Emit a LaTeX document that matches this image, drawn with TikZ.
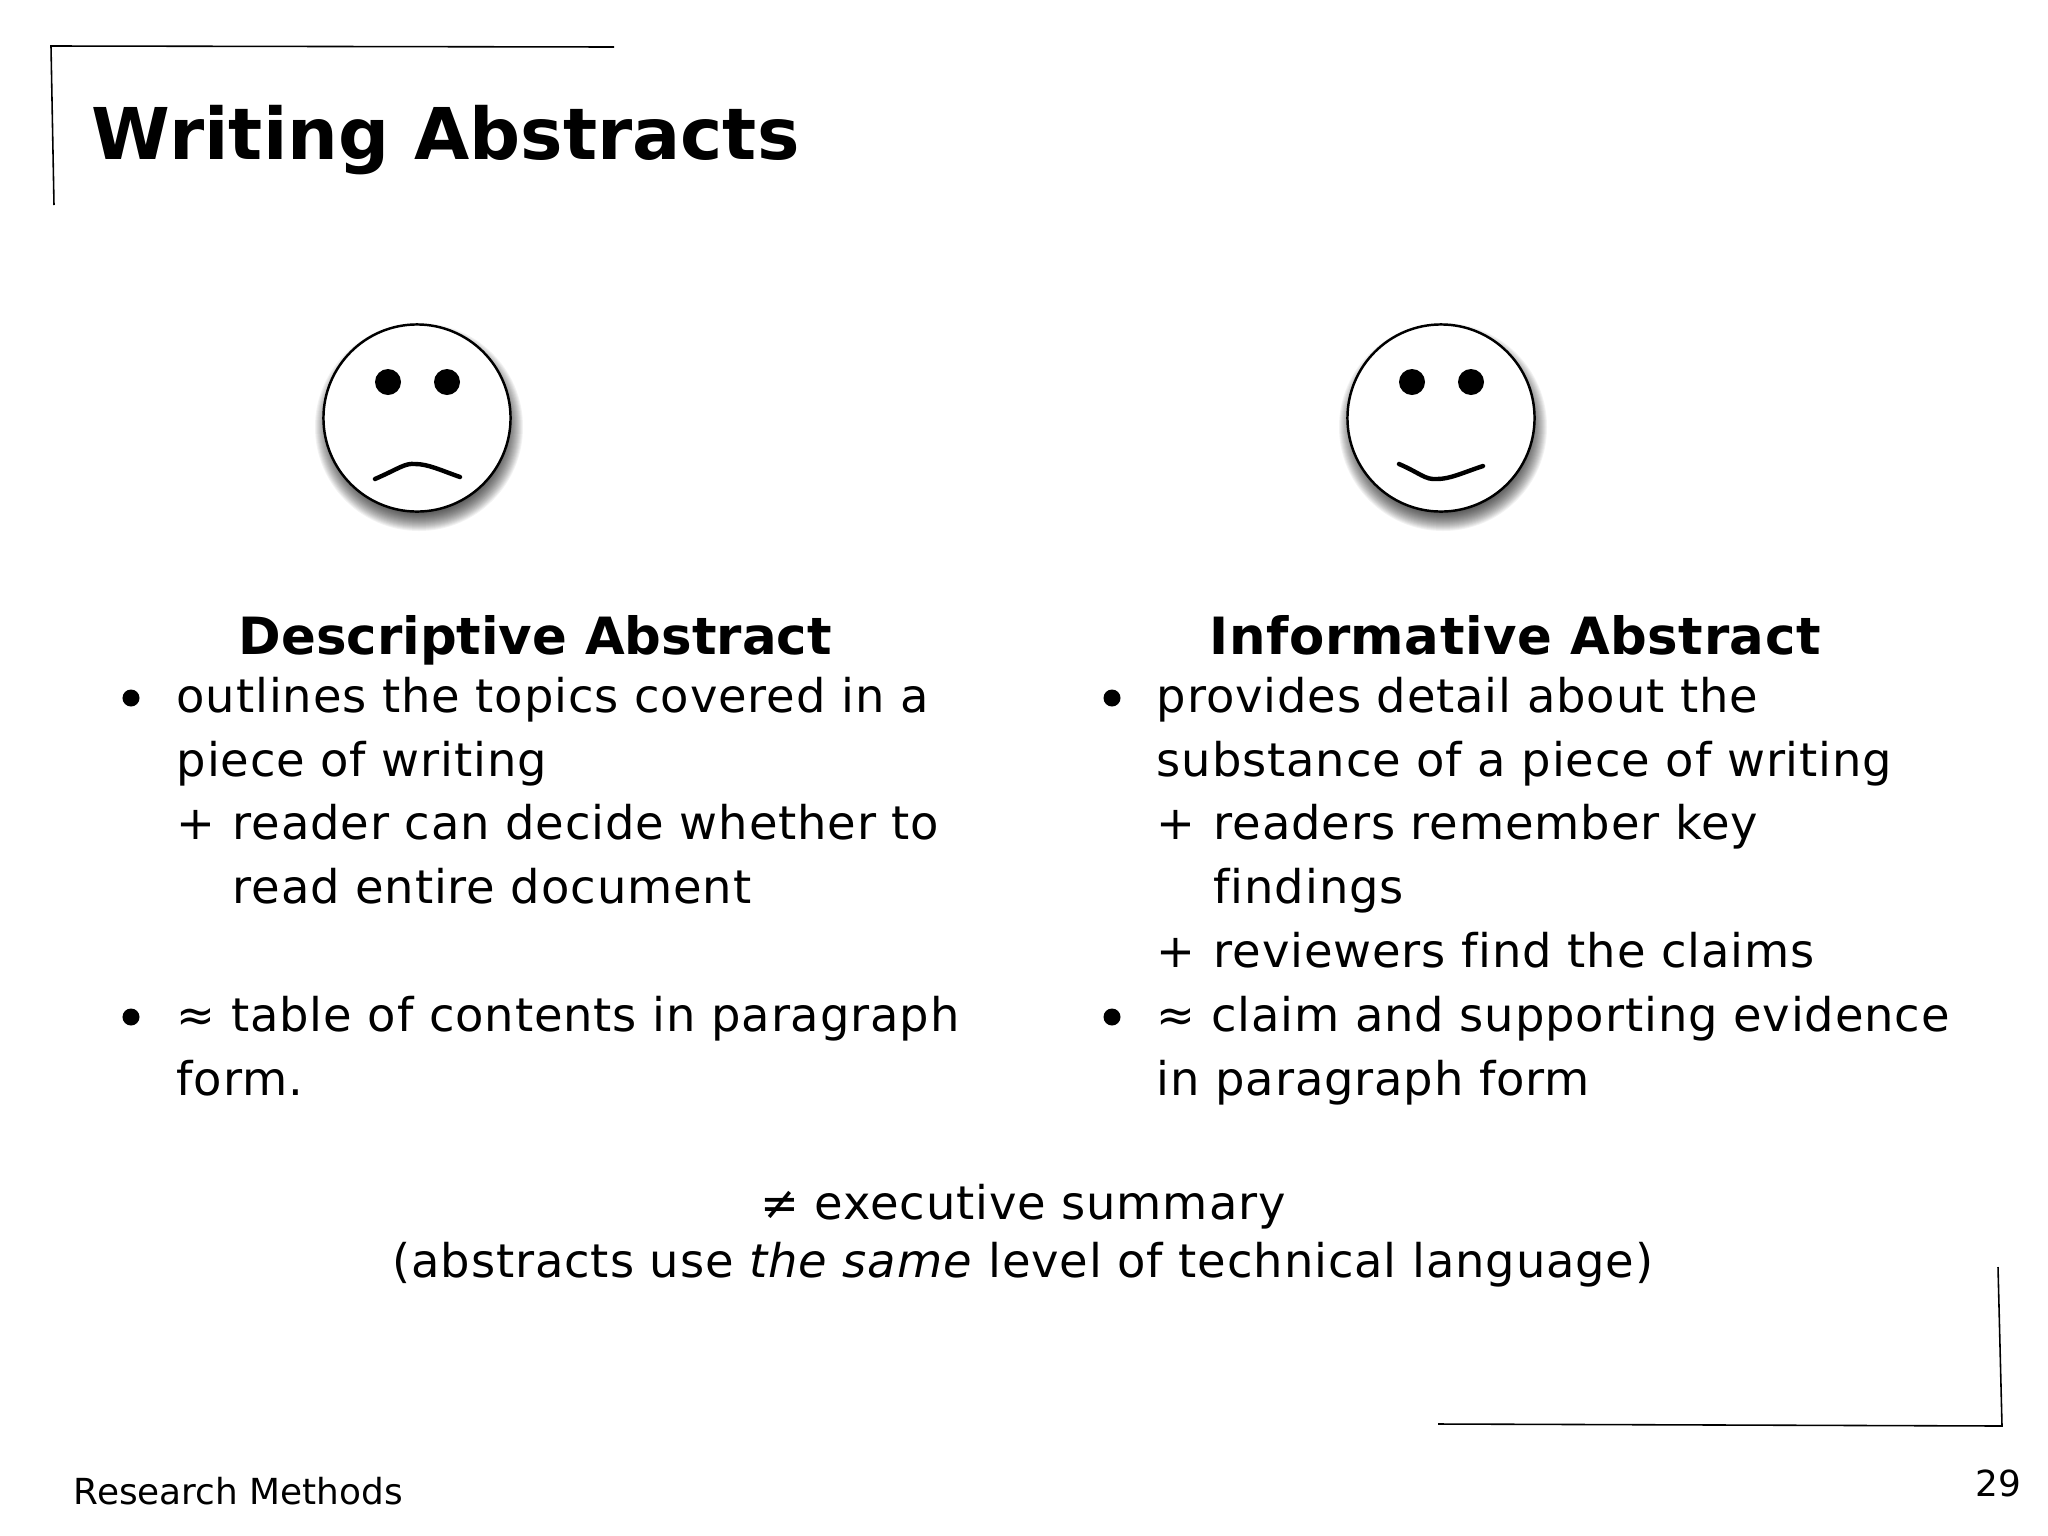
\documentclass[tikz,border=0pt]{standalone}
\usepackage{fontspec}
\setmainfont[Ligatures=NoCommon]{DejaVu Sans}
\usetikzlibrary{positioning}

\tikzset{
  txt/.style={inner sep=0pt,anchor=base west,align=left,font=\fontsize{13.2}{18.2}\selectfont\addfontfeatures{LetterSpace=1.85}},
  bullet/.style={inner sep=0pt,anchor=center,circle,fill=black,minimum size=0.17cm},
  heading/.style={inner sep=0pt,anchor=base west,font=\fontsize{14.6}{18}\selectfont\bfseries},
  closing/.style={inner sep=0pt,anchor=base,align=center,font=\fontsize{13.2}{16.4}\selectfont\addfontfeatures{LetterSpace=1.85}},
  footer/.style={inner sep=0pt,anchor=base west,font=\fontsize{10.2}{12}\selectfont},
  frameline/.style={line width=0.45pt},
  facedisc/.style={circle,draw,fill=white,line width=0.7pt,minimum size=1.87cm,inner sep=0pt},
  mouth/.style={line width=1.25pt,line cap=round}
}

\begin{document}
\begin{tikzpicture}[x=0.01cm,y=-0.01cm]
  \useasboundingbox (0,0) rectangle (2048,1536);

  % corners
  \coordinate (tl_a) at (51,46);
  \coordinate (tl_b) at (614,47);
  \coordinate (tl_c) at (54,205);
  \coordinate (br_a) at (1998,1267);
  \coordinate (br_b) at (2002,1426);
  \coordinate (br_c) at (1438,1424);
  \draw[frameline] (tl_b) -- (tl_a) -- (tl_c);
  \draw[frameline] (br_a) -- (br_b) -- (br_c);

  \node[inner sep=0pt,anchor=base west,font=\fontsize{20.3}{26}\selectfont\bfseries] (title) at (91,159) {Writing Abstracts};

  % faces
  \foreach \fname/\fx in {sadface/417,happyface/1441} {
    \foreach \r in {104,103,...,78}
      \fill[black,opacity=0.05] (\fx+2,427) circle[radius=\r];
    \node[facedisc] (\fname) at (\fx,418) {};
    \fill (\fx-29,382) circle[radius=13];
    \fill (\fx+30,382) circle[radius=13];
  }
  \draw[mouth] (375,479) .. controls (400,468) and (405,463) .. (415,464) .. controls (428,464) and (440,470) .. (460,477);
  \draw[mouth] (1399,464) .. controls (1420,473) and (1425,480) .. (1437,479) .. controls (1450,479) and (1462,473) .. (1483,466);

  % left column
  \node[heading] (deschead) at (238,654) {Descriptive Abstract};
  \node[bullet] (lbullet1) at (131,698) {};
  \node[txt] (ltext1) at (176,712) {outlines the topics covered in a};
  \node[txt] (ltext2) at (176,776) {piece of writing};
  \node[txt] (lplus1) at (176,839) {+};
  \node[txt] (ltext3) at (232,839) {reader can decide whether to};
  \node[txt] (ltext4) at (232,903) {read entire document};
  \node[bullet] (lbullet2) at (131,1017) {};
  \node[txt] (ltext5) at (176,1031) {≈ table of contents in paragraph};
  \node[txt] (ltext6) at (176,1095) {form.};

  % right column
  \node[heading,font=\fontsize{14.6}{18}\selectfont\bfseries\addfontfeatures{LetterSpace=1}] (infohead) at (1209,654) {Informative Abstract};
  \node[bullet] (rbullet1) at (1112,698) {};
  \node[txt] (rtext1) at (1156,712) {provides detail about the};
  \node[txt] (rtext2) at (1156,776) {substance of a piece of writing};
  \node[txt] (rplus1) at (1156,839) {+};
  \node[txt] (rtext3) at (1213,839) {readers remember key};
  \node[txt] (rtext4) at (1213,903) {findings};
  \node[txt] (rplus2) at (1156,967) {+};
  \node[txt] (rtext5) at (1213,967) {reviewers find the claims};
  \node[bullet] (rbullet2) at (1112,1017) {};
  \node[txt] (rtext6) at (1156,1031) {≈ claim and supporting evidence};
  \node[txt] (rtext7) at (1156,1095) {in paragraph form};

  % bottom
  \node[closing] (execsum) at (1023,1219) {≠ executive summary};
  \node[closing] (samelevel) at (1023,1277) {(abstracts use \textit{the same} level of technical language)};

  \node[footer] (course) at (73,1504) {Research Methods};
  \node[footer,anchor=base east] (pagenum) at (2022,1496) {29};
\end{tikzpicture}
\end{document}
